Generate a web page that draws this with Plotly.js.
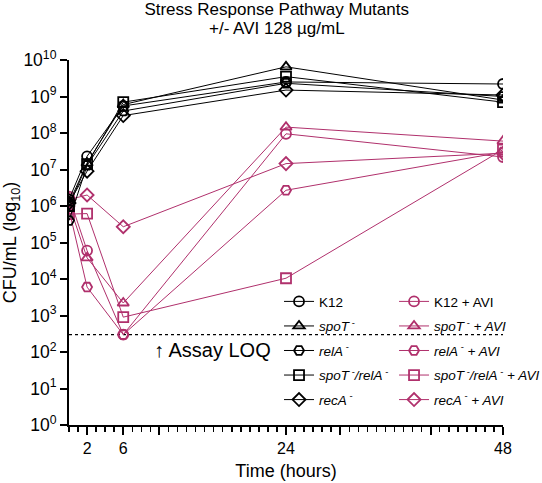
<!DOCTYPE html>
<html>
<head>
<meta charset="utf-8">
<script src="https://cdn.plot.ly/plotly-3.0.1.min.js"></script>
<style>html,body{margin:0;padding:0;background:#fff;}#chart{width:542px;height:483px;}</style>
</head>
<body>
<div id="chart"></div>
<script>
// Data
const time = [0, 2, 6, 24, 48];
const k12 = [1.5e6, 2.3e7, 5.5e8, 2.5e9, 2.2e9];
const spoT = [1.2e6, 1.5e7, 6.0e8, 6.5e9, 8.0e8];
const relA = [4.0e5, 1.3e7, 4.0e8, 2.3e9, 1.0e9];
const spoTrelA = [1.0e6, 1.4e7, 7.0e8, 3.5e9, 7.0e8];
const recA = [1.2e6, 9.0e6, 3.0e8, 1.5e9, 1.1e9];

const k12AVI = [1.8e6, 6.0e4, 3.0e2, 9.5e7, 2.2e7];
const spoTAVI = [1.1e6, 3.8e4, 2.2e3, 1.45e8, 6.0e7];
const relAAVI = [8.0e5, 6.0e3, 3.0e2, 2.7e6, 3.0e7];
const spoTrelAAVI = [6.0e5, 6.2e5, 9.0e2, 1.05e4, 3.5e7];
const recAAVI = [1.5e6, 2.0e6, 2.7e5, 1.45e7, 2.8e7];

const loq = 300;
const loqX = [0, 48];

const titleLine1 = "Stress Response Pathway Mutants";
const titleLine2 = "+/- AVI 128 µg/mL";

const namesPlain = ["K12", "<i>spoT</i><sup> -</sup>", "<i>relA</i><sup> -</sup>",
  "<i>spoT</i><sup> -</sup><i>/relA</i><sup> -</sup>", "<i>recA</i><sup> -</sup>"];
const namesAVI = ["K12 + AVI", "<i>spoT</i><sup> -</sup><i> + AVI</i>", "<i>relA</i><sup> -</sup><i> + AVI</i>",
  "<i>spoT</i><sup> -</sup><i>/relA</i><sup> -</sup><i> + AVI</i>", "<i>recA</i><sup> -</sup><i> + AVI</i>"];
const symbols = ["circle-open", "triangle-up-open", "hexagon2-open", "square-open", "diamond-open"];

const yTickVals = [1, 10, 100, 1e3, 1e4, 1e5, 1e6, 1e7, 1e8, 1e9, 1e10];
const yTickText = yTickVals.map((v, i) => "10<sup>" + i + "</sup>");
const xTickVals = [2, 6, 10, 24, 30, 40, 48];
const xTickText = ["2", "6", "", "24", "", "", "48"];

const black = "#000000";
const pink = "#B0306C";

const plainSeries = [k12, spoT, relA, spoTrelA, recA];
const aviSeries = [k12AVI, spoTAVI, relAAVI, spoTrelAAVI, recAAVI];

const traces = [];
traces.push({
  x: loqX, y: [loq, loq], mode: "lines", showlegend: false, hoverinfo: "skip",
  line: {color: "#000", width: 1.3, dash: "dot"}
});
aviSeries.forEach((s, i) => {
  traces.push({
    x: time, y: s, name: namesAVI[i], mode: "lines+markers", legend: "legend2",
    legendgroup: "a" + i,
    line: {color: pink, width: 1},
    marker: {symbol: symbols[i], size: 10, color: pink, line: {width: 1.8, color: pink}}
  });
});
plainSeries.forEach((s, i) => {
  traces.push({
    x: time, y: s, name: namesPlain[i], mode: "lines+markers", legend: "legend",
    legendgroup: "p" + i,
    line: {color: black, width: 1},
    marker: {symbol: symbols[i], size: 10, color: black, line: {width: 1.8, color: black}}
  });
});

const font = {family: "Arial, 'Liberation Sans', Helvetica, sans-serif", color: "#000"};

const layout = {
  width: 542, height: 483,
  margin: {l: 69, r: 39, t: 60, b: 58, autoexpand: false},
  paper_bgcolor: "#fff", plot_bgcolor: "#fff",
  font: Object.assign({size: 15}, font),
  showlegend: true,
  title: {
    text: titleLine1,
    font: Object.assign({size: 17}, font),
    xref: "container", x: 0.5105, xanchor: "center",
    yref: "container", y: 0.9814, yanchor: "middle"
  },
  xaxis: {
    range: [0, 48], showgrid: false, zeroline: false,
    showline: true, linecolor: "#000", linewidth: 2,
    tickmode: "array", tickvals: xTickVals, ticktext: xTickText,
    ticks: "outside", ticklen: 8, tickwidth: 2, tickcolor: "#000",
    tickfont: Object.assign({size: 16}, font),
    minor: {tickmode: "linear", tick0: 0, dtick: 1, ticks: "outside", ticklen: 5, tickwidth: 1.5, tickcolor: "#000", showgrid: false},
    title: {text: "Time (hours)", font: Object.assign({size: 18}, font), standoff: 8}
  },
  yaxis: {
    type: "log", range: [0, 10], showgrid: false, zeroline: false,
    showline: true, linecolor: "#000", linewidth: 2,
    tickmode: "array", tickvals: yTickVals, ticktext: yTickText,
    ticks: "outside", ticklen: 7, tickwidth: 2, tickcolor: "#000",
    tickfont: Object.assign({size: 17.5}, font),
    title: {text: "CFU/mL (log<sub>10</sub>)", font: Object.assign({size: 18}, font), standoff: 5}
  },
  legend: {
    xref: "container", x: 0.5148, y: 0.3805, xanchor: "left", yanchor: "top",
    bgcolor: "rgba(0,0,0,0)", borderwidth: 0,
    font: Object.assign({size: 13.5}, font),
    tracegroupgap: 4, traceorder: "grouped", itemclick: false
  },
  legend2: {
    xref: "container", x: 0.727, y: 0.3805, xanchor: "left", yanchor: "top",
    bgcolor: "rgba(0,0,0,0)", borderwidth: 0,
    font: Object.assign({size: 13.5}, font),
    tracegroupgap: 4, traceorder: "grouped", itemclick: false
  },
  annotations: [{
    x: 9.2, y: 2.05, xref: "x", yref: "y", xanchor: "left", yanchor: "middle",
    text: "↑ Assay LOQ", showarrow: false, font: Object.assign({size: 20}, font)
  }, {
    x: 0.4786, y: 1.0863, xref: "paper", yref: "paper", xanchor: "center", yanchor: "middle",
    text: titleLine2, showarrow: false, font: Object.assign({size: 17}, font)
  }]
};

Plotly.newPlot("chart", traces, layout, {displayModeBar: false, staticPlot: true});
</script>
</body>
</html>
